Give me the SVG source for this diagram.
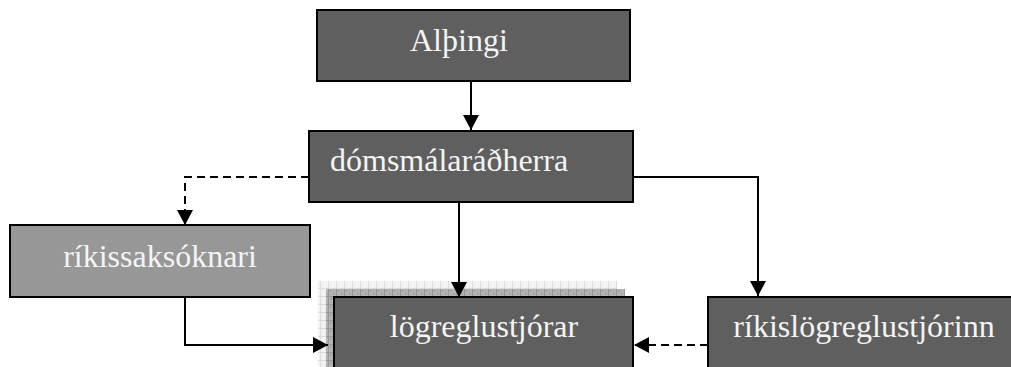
<svg xmlns="http://www.w3.org/2000/svg" width="1011" height="367" viewBox="0 0 1011 367">
<style>
.box{fill:#5f5f5f;stroke:#000;stroke-width:2}
.light{fill:#979797;stroke:#000;stroke-width:2}
.lbl{font-family:"Liberation Serif","Times New Roman",serif;font-size:32px;fill:#f4f4f4}
.ln{fill:none;stroke:#000;stroke-width:2}
.dash{stroke-dasharray:8 5}
</style>
<defs>
<marker id="ah" markerWidth="15" markerHeight="16" refX="15" refY="8" orient="auto" markerUnits="userSpaceOnUse">
<path d="M0,0 L15,8 L0,16 Z" fill="#000"/>
</marker>
<pattern id="grid1" width="8" height="8" patternUnits="userSpaceOnUse">
<rect width="8" height="8" fill="#f2f2f2"/>
<path d="M0,0.5 H8 M0.5,0 V8" stroke="#dcdcdc" stroke-width="1"/>
</pattern>
<pattern id="grid2" width="8" height="8" patternUnits="userSpaceOnUse">
<rect width="8" height="8" fill="#b4b4b4"/>
<path d="M0,0.5 H8 M0.5,0 V8" stroke="#969696" stroke-width="1"/>
<rect x="2" y="2" width="2" height="2" fill="#a4a4a4"/>
<rect x="5" y="5" width="2" height="2" fill="#a4a4a4"/>
</pattern>
</defs>
<g id="althingi">
<rect class="box" x="317" y="10" width="313" height="71"/>
<text class="lbl" x="410" y="51">Alþingi</text>
</g>
<g id="domsmalaradherra">
<rect class="box" x="309" y="131" width="324" height="71"/>
<text class="lbl" x="330" y="171">dómsmálaráðherra</text>
</g>
<g id="rikissaksoknari">
<rect class="light" x="10" y="225" width="300" height="72"/>
<text class="lbl" x="160" y="267" text-anchor="middle">ríkissaksóknari</text>
</g>
<g id="logreglustjorar">
<rect x="318" y="281" width="299" height="90" fill="url(#grid1)"/>
<rect x="326" y="289" width="299" height="90" fill="url(#grid2)"/>
<rect class="box" x="334" y="297" width="299" height="80"/>
<text class="lbl" x="484" y="337" text-anchor="middle">lögreglustjórar</text>
</g>
<g id="rikislogreglustjorinn">
<rect class="box" x="708" y="297" width="310" height="80"/>
<text class="lbl" x="864" y="337" text-anchor="middle">ríkislögreglustjórinn</text>
</g>
<g id="connectors">
<path class="ln" d="M471,81 V130" marker-end="url(#ah)"/>
<path class="ln dash" d="M309,177 H185 V225" marker-end="url(#ah)"/>
<path class="ln" d="M459,202 V297" marker-end="url(#ah)"/>
<path class="ln" d="M633,177 H758 V296" marker-end="url(#ah)"/>
<path class="ln" d="M185,297 V345 H328" marker-end="url(#ah)"/>
<path class="ln dash" d="M708,345 H634" marker-end="url(#ah)"/>
</g>
</svg>
